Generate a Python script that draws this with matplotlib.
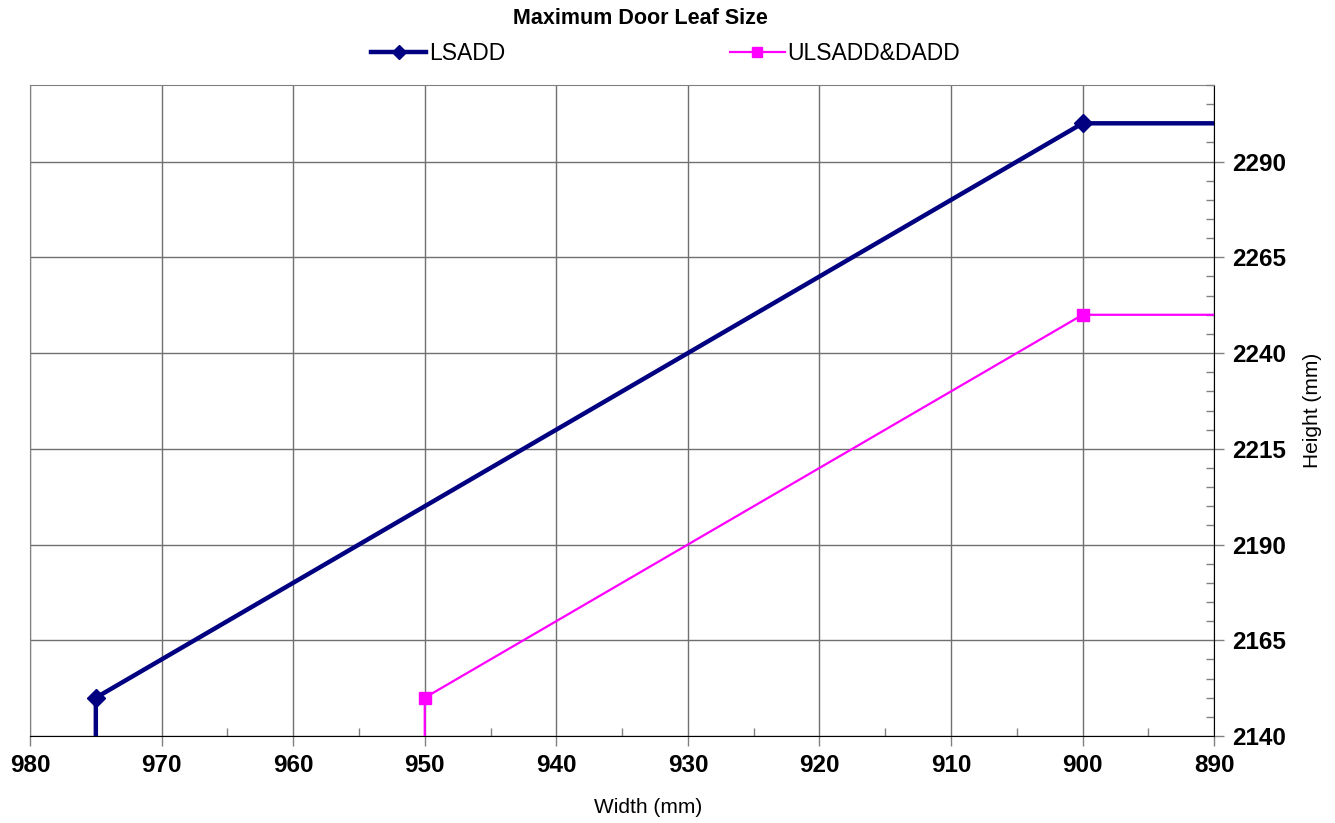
import numpy as np
import matplotlib.pyplot as plt
from matplotlib.ticker import FixedLocator, MultipleLocator

plt.rcParams['font.family'] = ['Liberation Sans', 'DejaVu Sans']

# series data (width, height)
lsadd_w = [975, 975, 900, 890]
lsadd_h = [2140, 2150, 2300, 2300]
lsadd_marks = [1, 2]  # points that carry a marker

ulsadd_w = [950, 950, 900, 890]
ulsadd_h = [2140, 2150, 2250, 2250]
ulsadd_marks = [1, 2]

y_ticks = [2140, 2165, 2190, 2215, 2240, 2265, 2290]

fig = plt.figure(figsize=(13.35, 8.23), dpi=100)
ax = fig.add_axes([0.0225, 0.1057, 0.887, 0.791])

ax.plot(lsadd_w, lsadd_h, color='#000080', lw=3.2, marker='D', markersize=9,
        markevery=lsadd_marks, label='LSADD', zorder=3)
ax.plot(ulsadd_w, ulsadd_h, color='#FF00FF', lw=1.6, marker='s', markersize=9,
        markevery=ulsadd_marks, label='ULSADD&DADD', zorder=3)

ax.set_xlim(980, 890)
ax.set_ylim(2140, 2310)
ax.xaxis.set_major_locator(MultipleLocator(10))
ax.xaxis.set_minor_locator(MultipleLocator(5))
ax.yaxis.set_major_locator(FixedLocator(y_ticks))
ax.yaxis.set_minor_locator(FixedLocator(np.arange(2140, 2311, 5)))

ax.yaxis.tick_right()
ax.yaxis.set_label_position('right')
ax.tick_params(axis='both', which='major', direction='out', length=7, width=1,
               color='#808080', labelsize=17.5, pad=6)
ax.tick_params(axis='both', which='minor', direction='in', length=6, width=1,
               color='#808080')
for lab in ax.get_xticklabels() + ax.get_yticklabels():
    lab.set_fontweight('bold')

ax.grid(True, which='major', color='#707070', lw=1)
ax.set_axisbelow(True)
for s in ['top', 'left']:
    ax.spines[s].set_color('#808080')
ax.spines['bottom'].set_color('black')
ax.spines['right'].set_color('black')

ax.set_xlabel('Width (mm)', fontsize=15)
ax.xaxis.set_label_coords(0.522, -0.095)
ax.set_ylabel('Height (mm)', fontsize=15, labelpad=12)

fig.text(0.4795, 0.978, 'Maximum Door Leaf Size', ha='center', va='center',
         fontsize=15.5, fontweight='bold')
fig.legend(loc='center', bbox_to_anchor=(0.4985, 0.935), ncol=2, frameon=False,
           fontsize=16.5, columnspacing=9.8, handlelength=2.4, handletextpad=0.1,
           markerscale=0.8)

fig.savefig('out.png', dpi=100)
